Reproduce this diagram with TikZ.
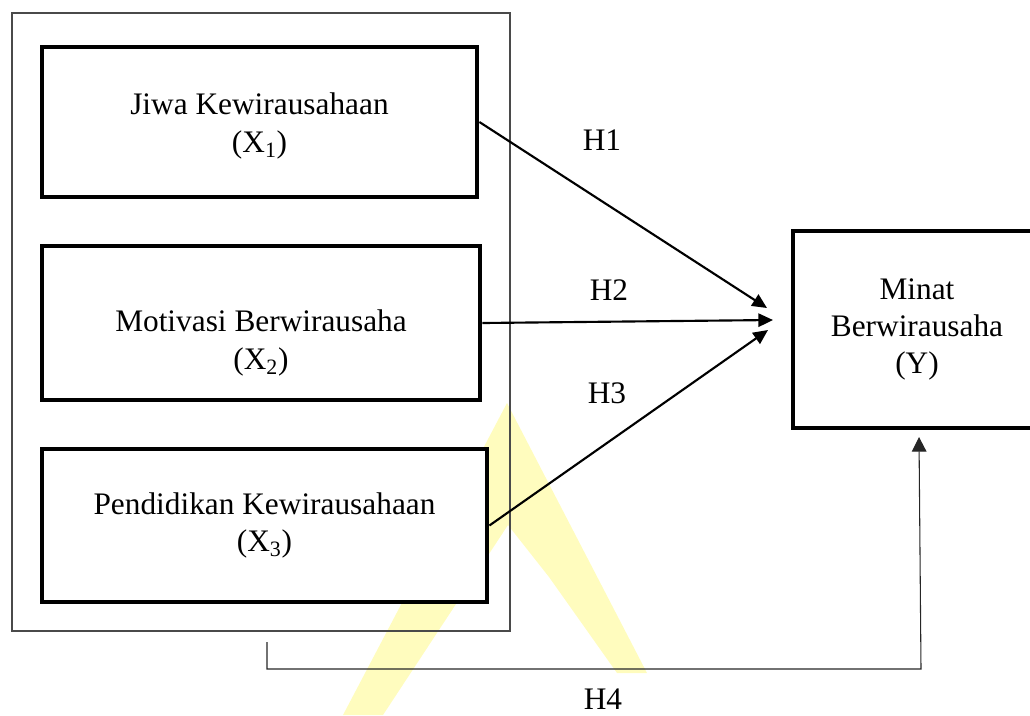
\documentclass[tikz,border=0pt]{standalone}
\usepackage{fontspec}
\setmainfont{Liberation Serif}
\usetikzlibrary{arrows.meta}
\definecolor{markColor}{HTML}{FFFCBE}
\definecolor{frameColor}{HTML}{4A4A4A}

\begin{document}
\begin{tikzpicture}[x=0.75pt, y=-0.75pt,
		var/.style={draw, line width=3.6pt, fill=white, align=center, font=\fontsize{23.5}{28}\selectfont},
		vartext/.style={align=center, font=\fontsize{23.5}{28}\selectfont},
		hyp/.style={font=\fontsize{23.5}{28}\selectfont},
		path1/.style={-{Triangle[length=11pt, width=10pt]}, line width=1.6pt}
		]
		\useasboundingbox (0,0) rectangle (1030,715);

		% watermark
		\fill[markColor] (507,403) -- (647,673) -- (617,673) -- (549,577) -- (508,525) -- (383,715) -- (343,715) -- cycle;

		% frame round X1..X3
		\draw[line width=0.8pt, draw=frameColor] (12,13) rectangle (510,631);

		\node[var, minimum width=326.25pt, minimum height=112.5pt,
			label={[vartext, yshift=-3pt]center:Jiwa Kewirausahaan\\(X\textsubscript{1})}] (x1) at (259.5,122) {};
		\node[var, minimum width=328.5pt, minimum height=115.5pt,
			label={[vartext, yshift=-15pt]center:Motivasi Berwirausaha\\(X\textsubscript{2})}] (x2) at (261,323) {};
		\node[var, minimum width=333.75pt, minimum height=114.75pt,
			label={[vartext]center:Pendidikan Kewirausahaan\\(X\textsubscript{3})}] (x3) at (264.5,525.5) {};
		\node[var, minimum width=186pt, minimum height=147.75pt] (y) at (917,329.5) {Minat\\Berwirausaha\\(Y)};

		\coordinate (t1) at (767,308);
		\coordinate (t2) at (773,320);
		\coordinate (t3) at (768,330);
		\draw[path1] (x1.east) -- (t1);
		\draw[path1] (x2.east) -- (t2);
		\draw[path1] (x3.east) -- (t3);

		\node[hyp] (h1) at (602,140) {H1};
		\node[hyp] (h2) at (609,290) {H2};
		\node[hyp] (h3) at (607,393) {H3};

		% H4 from the frame to Y
		\coordinate (h4s) at (267,642);
		\coordinate (h4c) at (921,669);
		\coordinate (h4e) at (919,437);
		\draw[line width=0.8pt, draw=black!85, -{Triangle[length=11pt, width=11pt]}] (h4s) |- (h4c) -- (h4e);
		\node[hyp] (h4) at (603,699) {H4};
	\end{tikzpicture}
\end{document}
